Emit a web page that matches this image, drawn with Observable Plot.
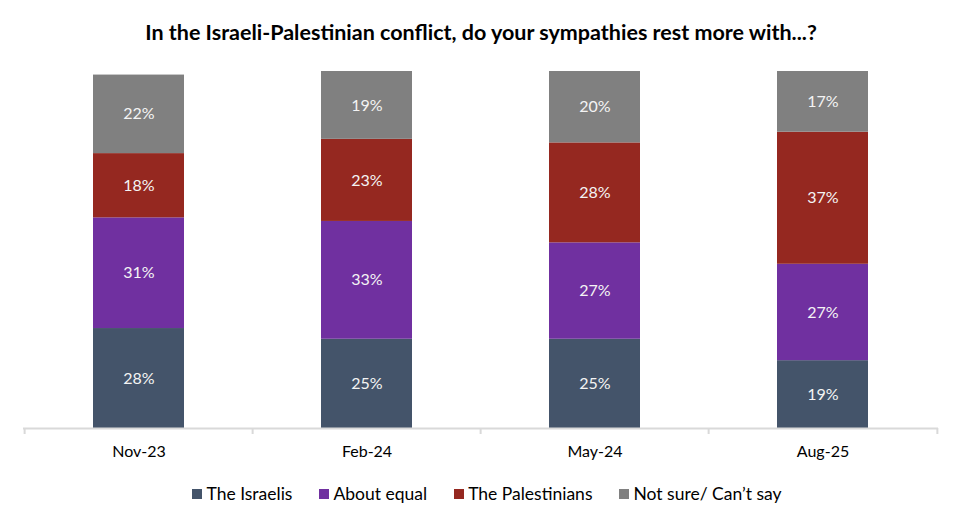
<!DOCTYPE html>
<html>
<head>
<meta charset="utf-8">
<script src="https://cdn.jsdelivr.net/npm/d3@7"></script>
<script src="https://cdn.jsdelivr.net/npm/@observablehq/plot@0.6"></script>
<style>
  html, body { margin: 0; padding: 0; background: #fff; }
  body { width: 962px; height: 525px; overflow: hidden; font-family: Lato, "Noto Sans", sans-serif; }
  #title { height: 50px; line-height: 64px; text-align: center; font-weight: bold; font-size: 21.5px; color: #000; }
  #chart svg { display: block; }
  #legend { display: flex; justify-content: center; align-items: center; gap: 27px; font-size: 17.5px; color: #000; margin-top: 13px; margin-left: 12px; }
  #legend .item { display: flex; align-items: center; gap: 4px; }
  #legend .sw { width: 10px; height: 10px; display: inline-block; }
</style>
</head>
<body>
<div id="title">In the Israeli-Palestinian conflict, do your sympathies rest more with...?</div>
<div id="chart"></div>
<div id="legend"></div>
<script>
const categories = ["Nov-23", "Feb-24", "May-24", "Aug-25"];
const seriesNames = ["The Israelis", "About equal", "The Palestinians", "Not sure/ Can\u2019t say"];
const seriesColors = ["#44546a", "#7030a0", "#952820", "#808080"];
const israelis = [28, 25, 25, 19];
const aboutEqual = [31, 33, 27, 27];
const palestinians = [18, 23, 28, 37];
const notSure = [22, 19, 20, 17];

const seriesValues = [israelis, aboutEqual, palestinians, notSure];
const data = [];
seriesNames.forEach((s, si) => {
  categories.forEach((c, ci) => {
    data.push({period: c, series: s, value: seriesValues[si][ci]});
  });
});

const W = 962, H = 420, mL = 23, mR = 24, mT = 21, mB = 42;
const step = (W - mL - mR) / categories.length;

const chart = Plot.plot({
  width: W,
  height: H,
  marginLeft: mL,
  marginRight: mR,
  marginTop: mT,
  marginBottom: mB,
  style: {fontFamily: "Lato, 'Noto Sans', sans-serif", fontSize: "16px", color: "#000", background: "#fff"},
  x: {domain: categories, paddingInner: 0.6, paddingOuter: 0.3, label: null, tickSize: 0, tickPadding: 17},
  y: {domain: [0, 100], axis: null},
  color: {domain: seriesNames, range: seriesColors},
  marks: [
    Plot.barY(data, Plot.stackY({x: "period", y: "value", z: "series", fill: "series", order: seriesNames})),
    Plot.text(data, Plot.stackY({x: "period", y: "value", z: "series", order: seriesNames, text: d => d.value + "%", fill: "#f4f4f4", fontSize: 16})),
    Plot.ruleY([0], {stroke: "#d9d9d9", strokeWidth: 2}),
    Plot.ruleX(categories, {x: d => d, dx: -step / 2, stroke: "#d9d9d9", strokeWidth: 2, insetTop: H - mT - mB, insetBottom: -6}),
    Plot.ruleX([categories[categories.length - 1]], {x: d => d, dx: step / 2, stroke: "#d9d9d9", strokeWidth: 2, insetTop: H - mT - mB, insetBottom: -6})
  ]
});
document.getElementById("chart").appendChild(chart);

const legend = document.getElementById("legend");
seriesNames.forEach((s, i) => {
  const item = document.createElement("div");
  item.className = "item";
  const sw = document.createElement("span");
  sw.className = "sw";
  sw.style.background = seriesColors[i];
  const t = document.createElement("span");
  t.textContent = s;
  item.appendChild(sw);
  item.appendChild(t);
  legend.appendChild(item);
});
</script>
</body>
</html>
